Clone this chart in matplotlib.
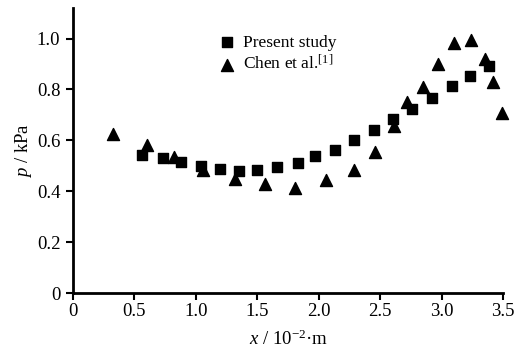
import numpy as np
from matplotlib import pyplot as plt

plt.rcParams['font.family'] = ['Liberation Serif', 'DejaVu Serif']
plt.rcParams['mathtext.fontset'] = 'custom'
plt.rcParams['mathtext.rm'] = 'Liberation Serif'
plt.rcParams['mathtext.it'] = 'Liberation Serif:italic'

# present study (squares)
x_present = [0.56, 0.73, 0.88, 1.04, 1.20, 1.35, 1.50, 1.66, 1.83, 1.97,
             2.13, 2.29, 2.45, 2.60, 2.76, 2.92, 3.08, 3.23, 3.38]
p_present = [0.543, 0.531, 0.516, 0.500, 0.486, 0.480, 0.482, 0.495, 0.512, 0.540,
             0.564, 0.600, 0.640, 0.683, 0.722, 0.768, 0.813, 0.854, 0.892]

# Chen et al. (triangles)
x_chen = [0.33, 0.60, 0.82, 1.06, 1.32, 1.56, 1.81, 2.06, 2.29, 2.46,
          2.61, 2.72, 2.85, 2.97, 3.10, 3.24, 3.35, 3.42, 3.49]
p_chen = [0.625, 0.583, 0.534, 0.482, 0.449, 0.428, 0.413, 0.445, 0.484, 0.553,
          0.657, 0.749, 0.811, 0.899, 0.982, 0.995, 0.919, 0.828, 0.708]

xticks = [0, 0.5, 1.0, 1.5, 2.0, 2.5, 3.0, 3.5]
xtick_labels = ['0', '0.5', '1.0', '1.5', '2.0', '2.5', '3.0', '3.5']
yticks = [0, 0.2, 0.4, 0.6, 0.8, 1.0]
ytick_labels = ['0', '0.2', '0.4', '0.6', '0.8', '1.0']

fig = plt.figure(figsize=(5.32, 3.49), dpi=100)
ax = fig.add_axes([0.137, 0.16, 0.809, 0.817])

ax.scatter(x_present, p_present, marker='s', s=60, color='black', label='Present study', clip_on=False)
ax.scatter(x_chen, p_chen, marker='^', s=75, color='black', label='Chen et al.$^{[1]}$', clip_on=False)

ax.set_xlim(0, 3.5)
ax.set_ylim(0, 1.12)
ax.set_xticks(xticks)
ax.set_xticklabels(xtick_labels)
ax.set_yticks(yticks)
ax.set_yticklabels(ytick_labels)

for s in ['top', 'right']:
    ax.spines[s].set_visible(False)
for s in ['left', 'bottom']:
    ax.spines[s].set_linewidth(2)
ax.tick_params(direction='out', length=5, width=1.5, labelsize=13.5)
ax.tick_params(axis='y', pad=4)
ax.tick_params(axis='x', pad=2)

ax.set_xlabel('$x$ / 10$^{-2}$·m', fontsize=13.5, labelpad=7)
ax.set_ylabel('$p$ / kPa', fontsize=13.5, labelpad=2)

ax.legend(loc='upper left', bbox_to_anchor=(0.29, 0.95), frameon=False, fontsize=12.5,
          handletextpad=-0.1, labelspacing=0.2, borderaxespad=0.3, scatterpoints=1)

fig.savefig('out.png', dpi=100)
